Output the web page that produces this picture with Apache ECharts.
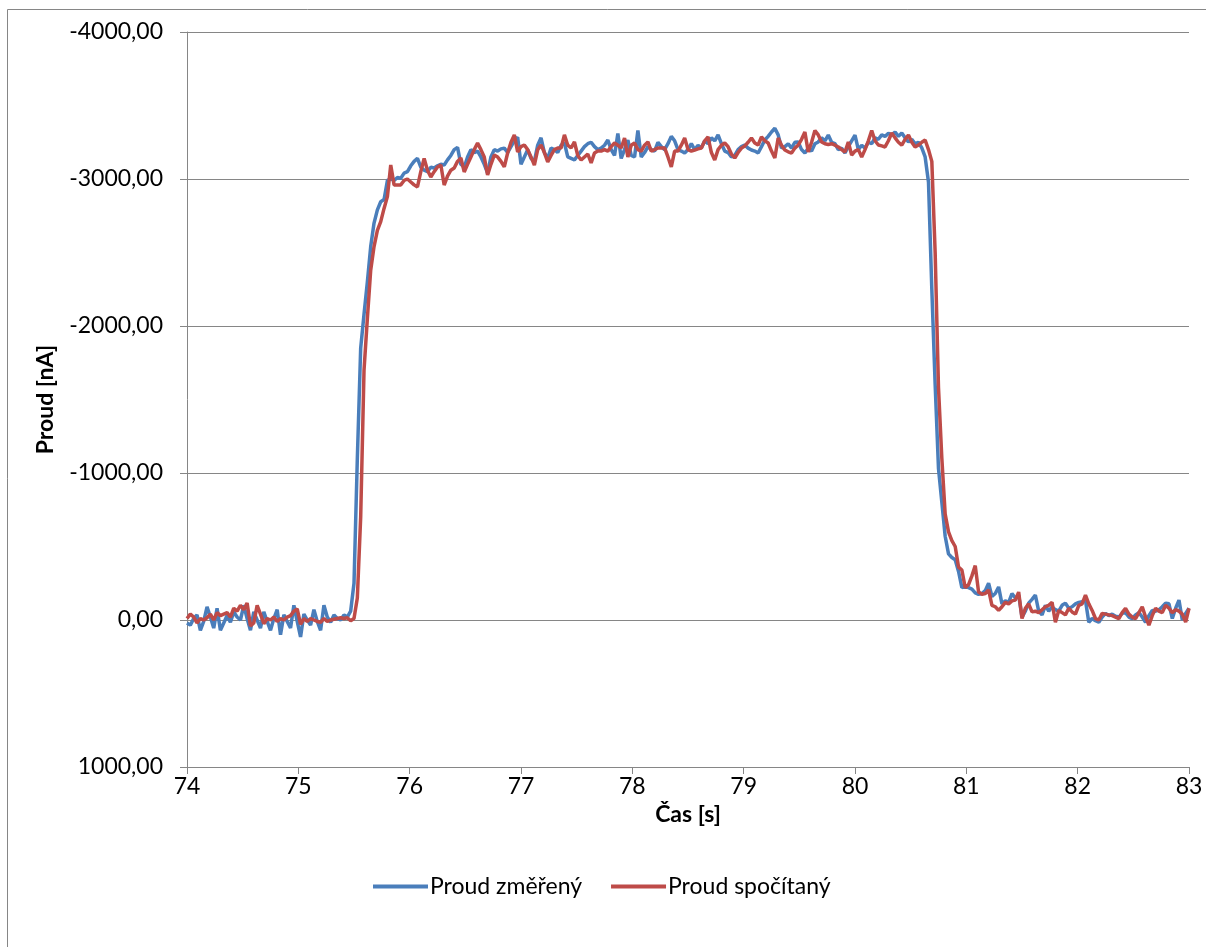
<!DOCTYPE html>
<html>
<head>
<meta charset="utf-8">
<script src="https://cdn.jsdelivr.net/npm/echarts@6/dist/echarts.min.js"></script>
<style>
html,body{margin:0;padding:0;background:#fff;}
#chart{width:1206px;height:947px;}
</style>
</head>
<body>
<div id="chart"></div>
<script>
// Time axis: samples every 0.03 s starting at 74 s
const timeStart = 74;
const timeStep = 0.03;
const seriesNames = ['Proud změřený', 'Proud spočítaný'];
const xTicks = [74, 75, 76, 77, 78, 79, 80, 81, 82, 83];
const yTicks = [-4000, -3000, -2000, -1000, 0, 1000];

// Proud změřený [nA]
const measured = [
  20,35,-10,-35,70,10,-90,-20,55,-80,
  70,20,-30,15,-55,-20,0,-100,-10,70,
  -55,0,55,-55,10,70,-10,-70,100,-35,
  10,55,-100,10,115,-40,0,35,-70,10,
  70,-100,-20,15,-35,-10,0,-35,-20,-60,
  -250,-1100,-1850,-2080,-2300,-2540,-2700,-2790,-2845,-2860,
  -2990,-3000,-2990,-3010,-3005,-3040,-3050,-3090,-3120,-3140,
  -3080,-3060,-3050,-3080,-3075,-3090,-3100,-3095,-3130,-3160,
  -3200,-3215,-3100,-3080,-3150,-3200,-3180,-3190,-3150,-3100,
  -3040,-3150,-3200,-3190,-3205,-3210,-3180,-3220,-3260,-3285,
  -3100,-3150,-3200,-3140,-3120,-3230,-3280,-3180,-3140,-3210,
  -3200,-3180,-3230,-3245,-3150,-3140,-3130,-3160,-3190,-3220,
  -3240,-3250,-3220,-3200,-3210,-3230,-3265,-3200,-3160,-3310,
  -3140,-3200,-3265,-3160,-3150,-3330,-3150,-3180,-3220,-3200,
  -3190,-3250,-3220,-3200,-3240,-3290,-3260,-3200,-3190,-3177,
  -3200,-3240,-3200,-3230,-3210,-3260,-3240,-3280,-3260,-3300,
  -3240,-3190,-3180,-3150,-3160,-3200,-3220,-3231,-3210,-3197,
  -3190,-3177,-3220,-3265,-3290,-3320,-3345,-3300,-3211,-3220,
  -3240,-3210,-3250,-3252,-3200,-3177,-3210,-3190,-3240,-3252,
  -3280,-3260,-3299,-3250,-3240,-3200,-3210,-3177,-3220,-3260,
  -3299,-3200,-3230,-3210,-3250,-3240,-3280,-3270,-3300,-3290,
  -3310,-3300,-3320,-3290,-3313,-3280,-3252,-3270,-3240,-3250,
  -3211,-3150,-2980,-2250,-1600,-1030,-800,-570,-450,-425,
  -410,-330,-220,-230,-220,-210,-185,-175,-180,-200,
  -250,-160,-180,-225,-110,-130,-120,-180,-150,-170,
  -20,-60,-115,-140,-170,-60,-35,-100,-60,-90,
  -70,-60,-100,-115,-80,-90,-110,-120,-125,-135,
  15,-10,5,15,-20,-45,-30,-40,-25,-20,
  -45,-50,-20,-10,-35,-50,-20,15,-30,-65,
  -60,-70,-90,-115,-110,-10,-80,-135,0,-45,
  -80
];

// Proud spočítaný [nA]
const computed = [
  -10,-40,-20,20,-10,0,-15,-40,0,-50,
  -30,-40,-50,-20,-80,-60,-100,-70,-115,40,
  20,-100,-40,25,-10,0,-20,10,-10,0,
  -20,-30,-60,-75,30,-10,10,-10,0,10,
  15,-10,10,0,-5,-10,-15,-10,-15,5,
  -10,-150,-700,-1700,-2050,-2380,-2540,-2650,-2710,-2800,
  -2880,-3095,-2960,-2960,-2960,-2990,-3000,-2980,-2960,-2946,
  -3050,-3140,-3060,-3014,-3050,-3082,-3095,-2959,-3020,-3060,
  -3075,-3120,-3143,-3048,-3100,-3150,-3200,-3245,-3200,-3150,
  -3027,-3100,-3163,-3150,-3120,-3082,-3177,-3250,-3300,-3184,
  -3220,-3231,-3200,-3150,-3095,-3200,-3231,-3180,-3116,-3160,
  -3200,-3211,-3211,-3300,-3230,-3211,-3252,-3160,-3129,-3150,
  -3170,-3109,-3177,-3190,-3190,-3200,-3190,-3220,-3245,-3230,
  -3211,-3279,-3150,-3230,-3245,-3200,-3190,-3230,-3252,-3190,
  -3200,-3211,-3211,-3211,-3150,-3082,-3190,-3190,-3230,-3279,
  -3200,-3190,-3197,-3205,-3211,-3260,-3286,-3180,-3129,-3200,
  -3230,-3245,-3220,-3170,-3143,-3180,-3210,-3225,-3250,-3279,
  -3245,-3231,-3286,-3260,-3245,-3190,-3143,-3279,-3230,-3197,
  -3185,-3177,-3210,-3231,-3270,-3320,-3184,-3250,-3330,-3300,
  -3252,-3240,-3235,-3240,-3230,-3218,-3200,-3184,-3252,-3163,
  -3190,-3200,-3150,-3200,-3260,-3330,-3260,-3231,-3225,-3218,
  -3260,-3313,-3280,-3250,-3231,-3270,-3299,-3250,-3218,-3231,
  -3250,-3265,-3200,-3120,-2500,-1580,-1100,-720,-600,-540,
  -500,-360,-340,-220,-240,-300,-370,-190,-175,-180,
  -205,-100,-90,-65,-90,-120,-110,-130,-135,-190,
  -10,-80,-110,-55,-60,-50,-70,-90,-100,-120,
  15,-65,-50,-35,-80,-55,-40,-100,-110,-170,
  -110,-65,-10,0,-45,-40,-35,-30,-20,-10,
  -50,-80,-40,-20,-10,-50,-90,-20,35,-30,
  -80,-60,-50,-100,-80,-50,-70,-60,-40,15,
  -80
];

const toPairs = arr => arr.map((v, i) => [+(timeStart + i * timeStep).toFixed(2), v]);

const FONT = 'Lato';
const GRID = '#868686';

const chart = echarts.init(document.getElementById('chart'), null, {renderer: 'canvas'});
chart.setOption({
  animation: false,
  backgroundColor: '#ffffff',
  graphic: [{
    type: 'rect',
    shape: {x: 7.5, y: 9.5, width: 1400, height: 1200},
    style: {fill: 'none', stroke: GRID, lineWidth: 1},
    silent: true,
    z: -1
  }],
  grid: {left: 187, right: 17, top: 32, bottom: 180, containLabel: false},
  legend: {
    data: seriesNames,
    top: 870,
    left: 368,
    icon: 'rect',
    itemWidth: 55,
    itemHeight: 4,
    itemGap: 29,
    textStyle: {fontFamily: FONT, fontSize: 23, color: '#000', padding: [0, 0, 0, -3]}
  },
  xAxis: {
    type: 'value',
    min: xTicks[0],
    max: xTicks[xTicks.length - 1],
    interval: 1,
    name: 'Čas [s]',
    nameLocation: 'middle',
    nameGap: 33,
    nameTextStyle: {fontFamily: FONT, fontSize: 23, fontWeight: 'bold', color: '#000'},
    axisLine: {onZero: false, lineStyle: {color: GRID, width: 1}},
    axisTick: {show: true, inside: false, length: 7, lineStyle: {color: GRID}},
    axisLabel: {fontFamily: FONT, fontSize: 23, color: '#000', margin: 8},
    splitLine: {show: false}
  },
  yAxis: {
    type: 'value',
    inverse: true,
    min: yTicks[0],
    max: yTicks[yTicks.length - 1],
    interval: 1000,
    name: 'Proud [nA]',
    nameLocation: 'middle',
    nameRotate: 90,
    nameGap: 130,
    nameTextStyle: {fontFamily: FONT, fontSize: 23, fontWeight: 'bold', color: '#000'},
    axisLine: {show: true, lineStyle: {color: GRID, width: 1}},
    axisTick: {show: true, inside: false, length: 7, lineStyle: {color: GRID}},
    axisLabel: {
      fontFamily: FONT, fontSize: 23, color: '#000', margin: 24,
      formatter: v => v.toFixed(2).replace('.', ',')
    },
    splitLine: {show: true, lineStyle: {color: GRID, width: 1}}
  },
  series: [
    {
      name: seriesNames[0], type: 'line', data: toPairs(measured),
      showSymbol: false, symbol: 'none',
      lineStyle: {color: '#4A7EBB', width: 3.5},
      itemStyle: {color: '#4A7EBB'}
    },
    {
      name: seriesNames[1], type: 'line', data: toPairs(computed),
      showSymbol: false, symbol: 'none',
      lineStyle: {color: '#BE4B48', width: 3.5},
      itemStyle: {color: '#BE4B48'}
    }
  ]
});
</script>
</body>
</html>
